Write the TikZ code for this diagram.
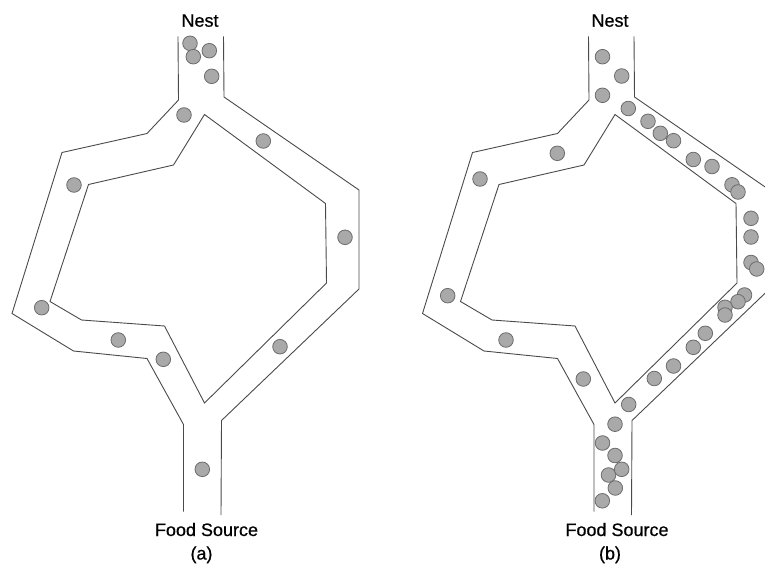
\documentclass[tikz,border=0pt]{standalone}
\usepackage{fontspec}
\setmainfont{Liberation Sans}
\newfontfamily\tagfont[FakeBold=0.6]{Liberation Sans}
\definecolor{wallgray}{HTML}{4A4A4A}
\definecolor{antfill}{HTML}{A9A9A9}
\definecolor{antedge}{HTML}{6C6C6C}
\begin{document}
\begin{tikzpicture}[x=1pt,y=-1pt,
  wall/.style={draw=wallgray, line width=0.9pt, line join=miter},
  ant/.style={fill=antfill, draw=antedge, line width=0.8pt},
  tagtext/.style={font=\tagfont\fontsize{18}{21}\selectfont, text=black, inner sep=0pt, anchor=base},
  trails/.pic={
    % left wall of the nest stem, running round the left branch down to the food stem
    \draw[wall] (178,36.5) -- (178.5,100) -- (147,133.5) -- (62,152.5) -- (12,313.5)
      -- (73.5,351) -- (147,358.5) -- (183.5,424.5) -- (183.5,511.5);
    % island between the two branches
    \draw[wall] (204.5,114.5) -- (325.5,203.5) -- (326.5,283) -- (204.5,403)
      -- (164.5,326) -- (81.5,320) -- (50,301.5) -- (88.5,184.5) -- (173.5,165) -- cycle;
    % right wall of the nest stem, running round the right branch down to the food stem
    \draw[wall] (223.5,36.5) -- (224,97) -- (359,190) -- (359,289) -- (221.5,420.5) -- (221,515);
  }]
\path[use as bounding box, clip] (0,0) rectangle (765,564);

% ---- (a): ants spread over both branches ----
\pic at (0,0) {trails};
\foreach \p in {(190,43.3),(209.3,50.7),(193.3,56.7),(211.7,76.3),(184,115),
  (263.3,141),(74,185),(345,237.3),(41.7,307.7),(118.3,340),(163.3,359.3),
  (280,346.7),(202.3,469.3)}
  \draw[ant] \p circle[radius=7.3];
\node[tagtext] (nestA) at (200,26.7) {Nest};
\node[tagtext] (foodA) at (206.5,536) {Food Source};
\node[tagtext] (capA) at (201.5,559.5) {(a)};

% ---- (b): ants gathered on the shorter right branch ----
\pic at (410.5,0) {trails};
\foreach \p in {(602.5,56.7),(621.7,76),(602.5,95.3),(628.3,108.5),(648,121.3),
  (660.3,133.3),(673.5,140.7),(693.3,159.5),(712,166.5),(732,184.8),(738,192),
  (557.3,153.3),(480,179),(751,218.3),(751,237),(751,262.5),(756.7,269),
  (447.7,295.7),(506,340),(583.3,379),(744.5,295),(738,301.7),(725,307.3),
  (725,315),(705.3,333.3),(693.3,347.3),(673.5,366),(654.3,378.5),(628.7,404.5),
  (615,424.2),(602.5,443),(615,455.5),(608.5,475),(621.7,469.3),(615.3,488),
  (602.3,500.8)}
  \draw[ant] \p circle[radius=7.3];
\node[tagtext] (nestB) at (610,26.7) {Nest};
\node[tagtext] (foodB) at (617,536) {Food Source};
\node[tagtext] (capB) at (610,559.5) {(b)};
\end{tikzpicture}
\end{document}
